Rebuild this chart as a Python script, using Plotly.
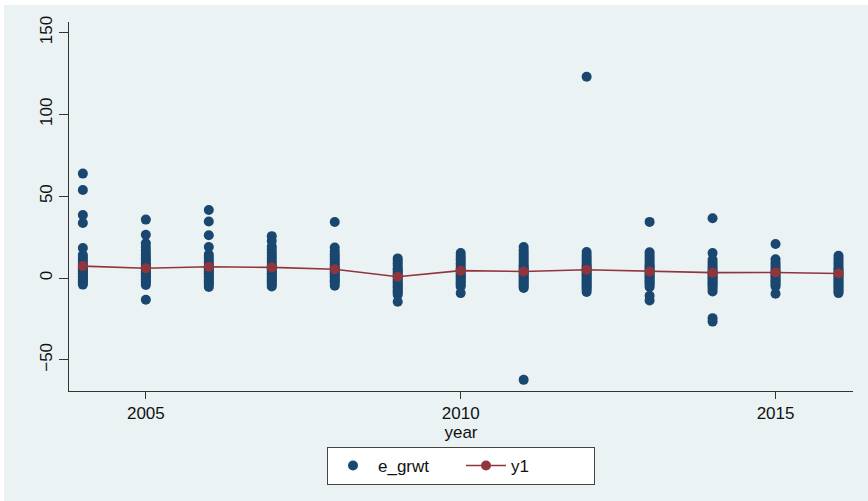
import plotly.graph_objects as go

# Growth observations grouped by year
years = [2004, 2005, 2006, 2007, 2008, 2009, 2010, 2011, 2012, 2013, 2014, 2015, 2016]

g2004 = [63.8, 53.8, 38.5, 33.6, 18.4, 14, 12.5, 11, 9.5, 8, 7, 6, 5, 4, 3, 2, 1, 0, -1, -2, -3, -4]
g2005 = [35.7, 26.4, 21.2, 19, 17, 15, 13.5, 12, 10.5, 9, 8, 7, 6, 5, 4, 3, 2, 1, 0, -1, -2, -3, -4.2, -13.3]
g2006 = [41.6, 34.5, 26.1, 19, 14.3, 12.5, 11, 9.5, 8, 7, 6, 5, 4, 3, 2, 1, 0, -1, -2, -3, -4, -5.5]
g2007 = [25.6, 22.6, 19.3, 17.5, 15.5, 14, 12.5, 11, 9.5, 8, 7, 6, 5, 4, 3, 2, 1, 0, -1, -2, -3, -4, -5.1]
g2008 = [34.2, 18.6, 16.5, 14.5, 13, 11.5, 10, 8.5, 7, 6, 5, 4, 3, 2, 1, 0, -1, -2, -3, -4.7]
g2009 = [12, 10.5, 9, 7.5, 6, 5, 4, 3, 2, 1, 0, -1, -2, -3, -4, -5, -6, -7, -8, -9, -10.2, -14.5]
g2010 = [15.3, 13.5, 12, 10.5, 9, 7.5, 6, 5, 4, 3, 2, 1, 0, -1, -2, -3, -4, -5.1, -9.2]
g2011 = [19, 17, 15.5, 14, 12.5, 11, 9.5, 8, 7, 6, 5, 4, 3, 2, 1, 0, -1, -2, -3, -4, -5, -6.1, -62.2]
g2012 = [123, 15.9, 14, 12.5, 11, 9.5, 8, 7, 6, 5, 4, 3, 2, 1, 0, -1, -2, -3, -4, -5, -6, -7, -8.5]
g2013 = [34.3, 15.8, 14, 12.5, 11, 9.5, 8, 7, 6, 5, 4, 3, 2, 1, 0, -1, -2, -3, -4, -5.5, -10.8, -13.7]
g2014 = [36.5, 15.3, 11.2, 9.5, 8, 6.5, 5, 4, 3, 2, 1, 0, -1, -2, -3, -4, -5, -6.5, -8.2, -24.5, -26.6]
g2015 = [20.8, 11.5, 9.5, 8, 6.5, 5, 4, 3, 2, 1, 0, -1, -2, -3, -4, -5.1, -9.6]
g2016 = [13.6, 12, 10.5, 9, 7.5, 6, 5, 4, 3, 2, 1, 0, -1, -2, -3, -4, -5, -6, -7, -8, -9.2]

groups = [g2004, g2005, g2006, g2007, g2008, g2009, g2010, g2011,
          g2012, g2013, g2014, g2015, g2016]

# Fitted series
y1 = [7.3, 6.0, 6.9, 6.5, 5.4, 0.8, 4.5, 4.0, 5.1, 4.0, 3.3, 3.4, 2.8]

x_tick_vals = [2005, 2010, 2015]
y_tick_vals = [-50, 0, 50, 100, 150]

NAVY = "#1A476F"
MAROON = "#90353B"
BG = "#EAF2F3"
FONT = "Liberation Sans, Arial, sans-serif"

scatter_x = [yr for yr, vals in zip(years, groups) for _ in vals]
scatter_y = [v for vals in groups for v in vals]

fig = go.Figure()
fig.add_trace(go.Scatter(
    x=scatter_x, y=scatter_y, mode="markers", name="e_grwt",
    marker=dict(color=NAVY, size=10, line=dict(width=0)),
))
fig.add_trace(go.Scatter(
    x=years, y=y1, mode="lines+markers", name="y1",
    line=dict(color=MAROON, width=1.6),
    marker=dict(color=MAROON, size=10),
))

W, H = 868, 501
L, R, T, B = 69, 15, 22, 110
pw, ph = W - L - R, H - T - B

# light outer frame behind the plot region
fig.add_shape(
    type="rect", xref="paper", yref="paper",
    x0=(4 - L) / pw, x1=(W - L) / pw,
    y0=-(B) / ph, y1=1 + (T - 5) / ph,
    fillcolor=BG, line=dict(width=0), layer="below",
)

fig.update_layout(
    width=W, height=H,
    margin=dict(l=L, r=R, t=T, b=B),
    paper_bgcolor="white",
    plot_bgcolor="white",
    font=dict(family=FONT, size=16, color="#111111"),
    showlegend=True,
    legend=dict(
        orientation="h",
        x=(461 - L) / pw, xanchor="center",
        y=-(447 - (T + ph)) / ph, yanchor="top",
        bgcolor="white",
        bordercolor="#444444", borderwidth=1,
        font=dict(family=FONT, size=17, color="#111111"),
        itemwidth=40,
        entrywidth=78,
        traceorder="normal",
    ),
)

fig.update_xaxes(
    range=[2003.78, 2016.23],
    tickvals=x_tick_vals,
    ticks="outside", ticklen=7, tickcolor="#333333", tickwidth=1,
    showline=True, linecolor="#333333", linewidth=1,
    showgrid=False, zeroline=False,
    tickfont=dict(family=FONT, size=17),
    title=dict(text="year", font=dict(family=FONT, size=17), standoff=0),
)
fig.update_yaxes(
    range=[-69, 156.4],
    tickvals=y_tick_vals,
    tickangle=-90,
    ticks="outside", ticklen=9, tickcolor="#333333", tickwidth=1,
    showline=True, linecolor="#333333", linewidth=1,
    showgrid=True, gridcolor=BG, gridwidth=1.5,
    zeroline=False,
    tickfont=dict(family=FONT, size=17),
)

fig.write_html("out.html")
